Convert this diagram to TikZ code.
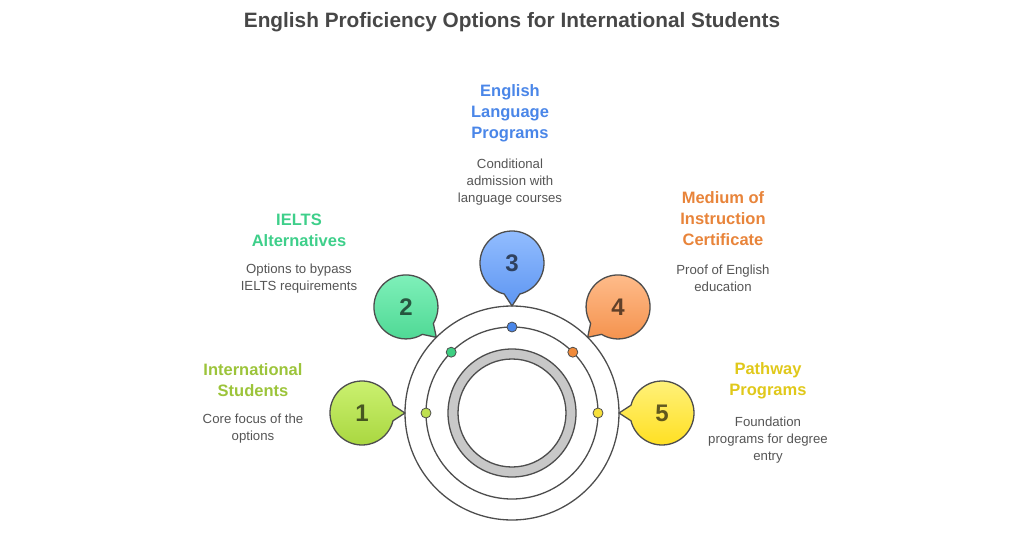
\documentclass[tikz,border=0pt]{standalone}
\usepackage{fontspec}
\setmainfont{Liberation Sans}
\definecolor{edge}{HTML}{4D4D4D}
\definecolor{ringgray}{HTML}{C8C8C8}
\definecolor{titlegray}{HTML}{474747}
\definecolor{descgray}{HTML}{555555}
\definecolor{toplime}{HTML}{CCF272}\definecolor{botlime}{HTML}{A8D63E}\definecolor{txtlime}{HTML}{9CC43A}\definecolor{dotlime}{HTML}{BFE050}
\definecolor{topmint}{HTML}{82F2BC}\definecolor{botmint}{HTML}{4ED894}\definecolor{txtmint}{HTML}{3ECF8A}\definecolor{dotmint}{HTML}{3ECF82}
\definecolor{topsky}{HTML}{94BEFF}\definecolor{botsky}{HTML}{5E96F2}\definecolor{txtsky}{HTML}{4A86E8}\definecolor{dotsky}{HTML}{4A86E8}
\definecolor{toppeach}{HTML}{FFBE8E}\definecolor{botpeach}{HTML}{F4904A}\definecolor{txtpeach}{HTML}{E8843A}\definecolor{dotpeach}{HTML}{F08A3A}
\definecolor{topsun}{HTML}{FFF27E}\definecolor{botsun}{HTML}{FFDF1E}\definecolor{txtsun}{HTML}{E0C81A}\definecolor{dotsun}{HTML}{F7E03A}
\begin{document}
\begin{tikzpicture}[x=1pt,y=1pt,
    ring/.style={draw=edge,line width=1.3pt,line join=round},
    dot/.style={circle,draw=edge,line width=0.8pt,minimum size=10pt,inner sep=0pt},
    num/.style={font=\bfseries\fontsize{24}{24}\selectfont,text=black,text opacity=0.62},
    heading/.style={font=\bfseries\fontsize{16.5}{21}\selectfont,align=center},
    desc/.style={font=\fontsize{13.2}{17}\selectfont,text=descgray,align=center}]
  \useasboundingbox (-512,-123) rectangle (512,413);
  \node [font=\bfseries\fontsize{20.8}{24}\selectfont,text=titlegray] (title) at (0,391) {English Proficiency Options for International Students};
  % rings
  \draw [ring] (0,0) circle (107);
  \draw [ring] (0,0) circle (86);
  \draw [ring,fill=ringgray,even odd rule] (0,0) circle (64) (0,0) circle (54);
  % bubbles
  \foreach \i/\ang/\col in {1/180/lime,2/135/mint,3/90/sky,4/45/peach,5/0/sun}{
    \pgfmathsetmacro\back{\ang+180}
    \draw [ring,shift={(\ang:150)},top color=top\col,bottom color=bot\col]
      (\back+14:32) arc [start angle=\back+14,end angle=\back+346,radius=32] -- (\back:43) -- cycle;
    \node [num] (n\i) at (\ang:150) {\i};
    \node [dot,fill=dot\col] (d\i) at (\ang:86) {};
  }
  % labels
  \node [heading,text=txtlime] (h1) at (-259,32.5) {International\\Students};
  \node [desc] (t1) at (-259,-15.5) {Core focus of the\\options};
  \node [heading,text=txtmint] (h2) at (-213,183) {IELTS\\Alternatives};
  \node [desc] (t2) at (-213,134.5) {Options to bypass\\IELTS requirements};
  \node [heading,text=txtsky] (h3) at (-2,300) {English\\Language\\Programs};
  \node [desc] (t3) at (-2,231) {Conditional\\admission with\\language courses};
  \node [heading,text=txtpeach] (h4) at (211,194) {Medium of\\Instruction\\Certificate};
  \node [desc] (t4) at (211,134.5) {Proof of English\\education};
  \node [heading,text=txtsun] (h5) at (256,32.5) {Pathway\\Programs};
  \node [desc] (t5) at (256,-27) {Foundation\\programs for degree\\entry};
\end{tikzpicture}
\end{document}
